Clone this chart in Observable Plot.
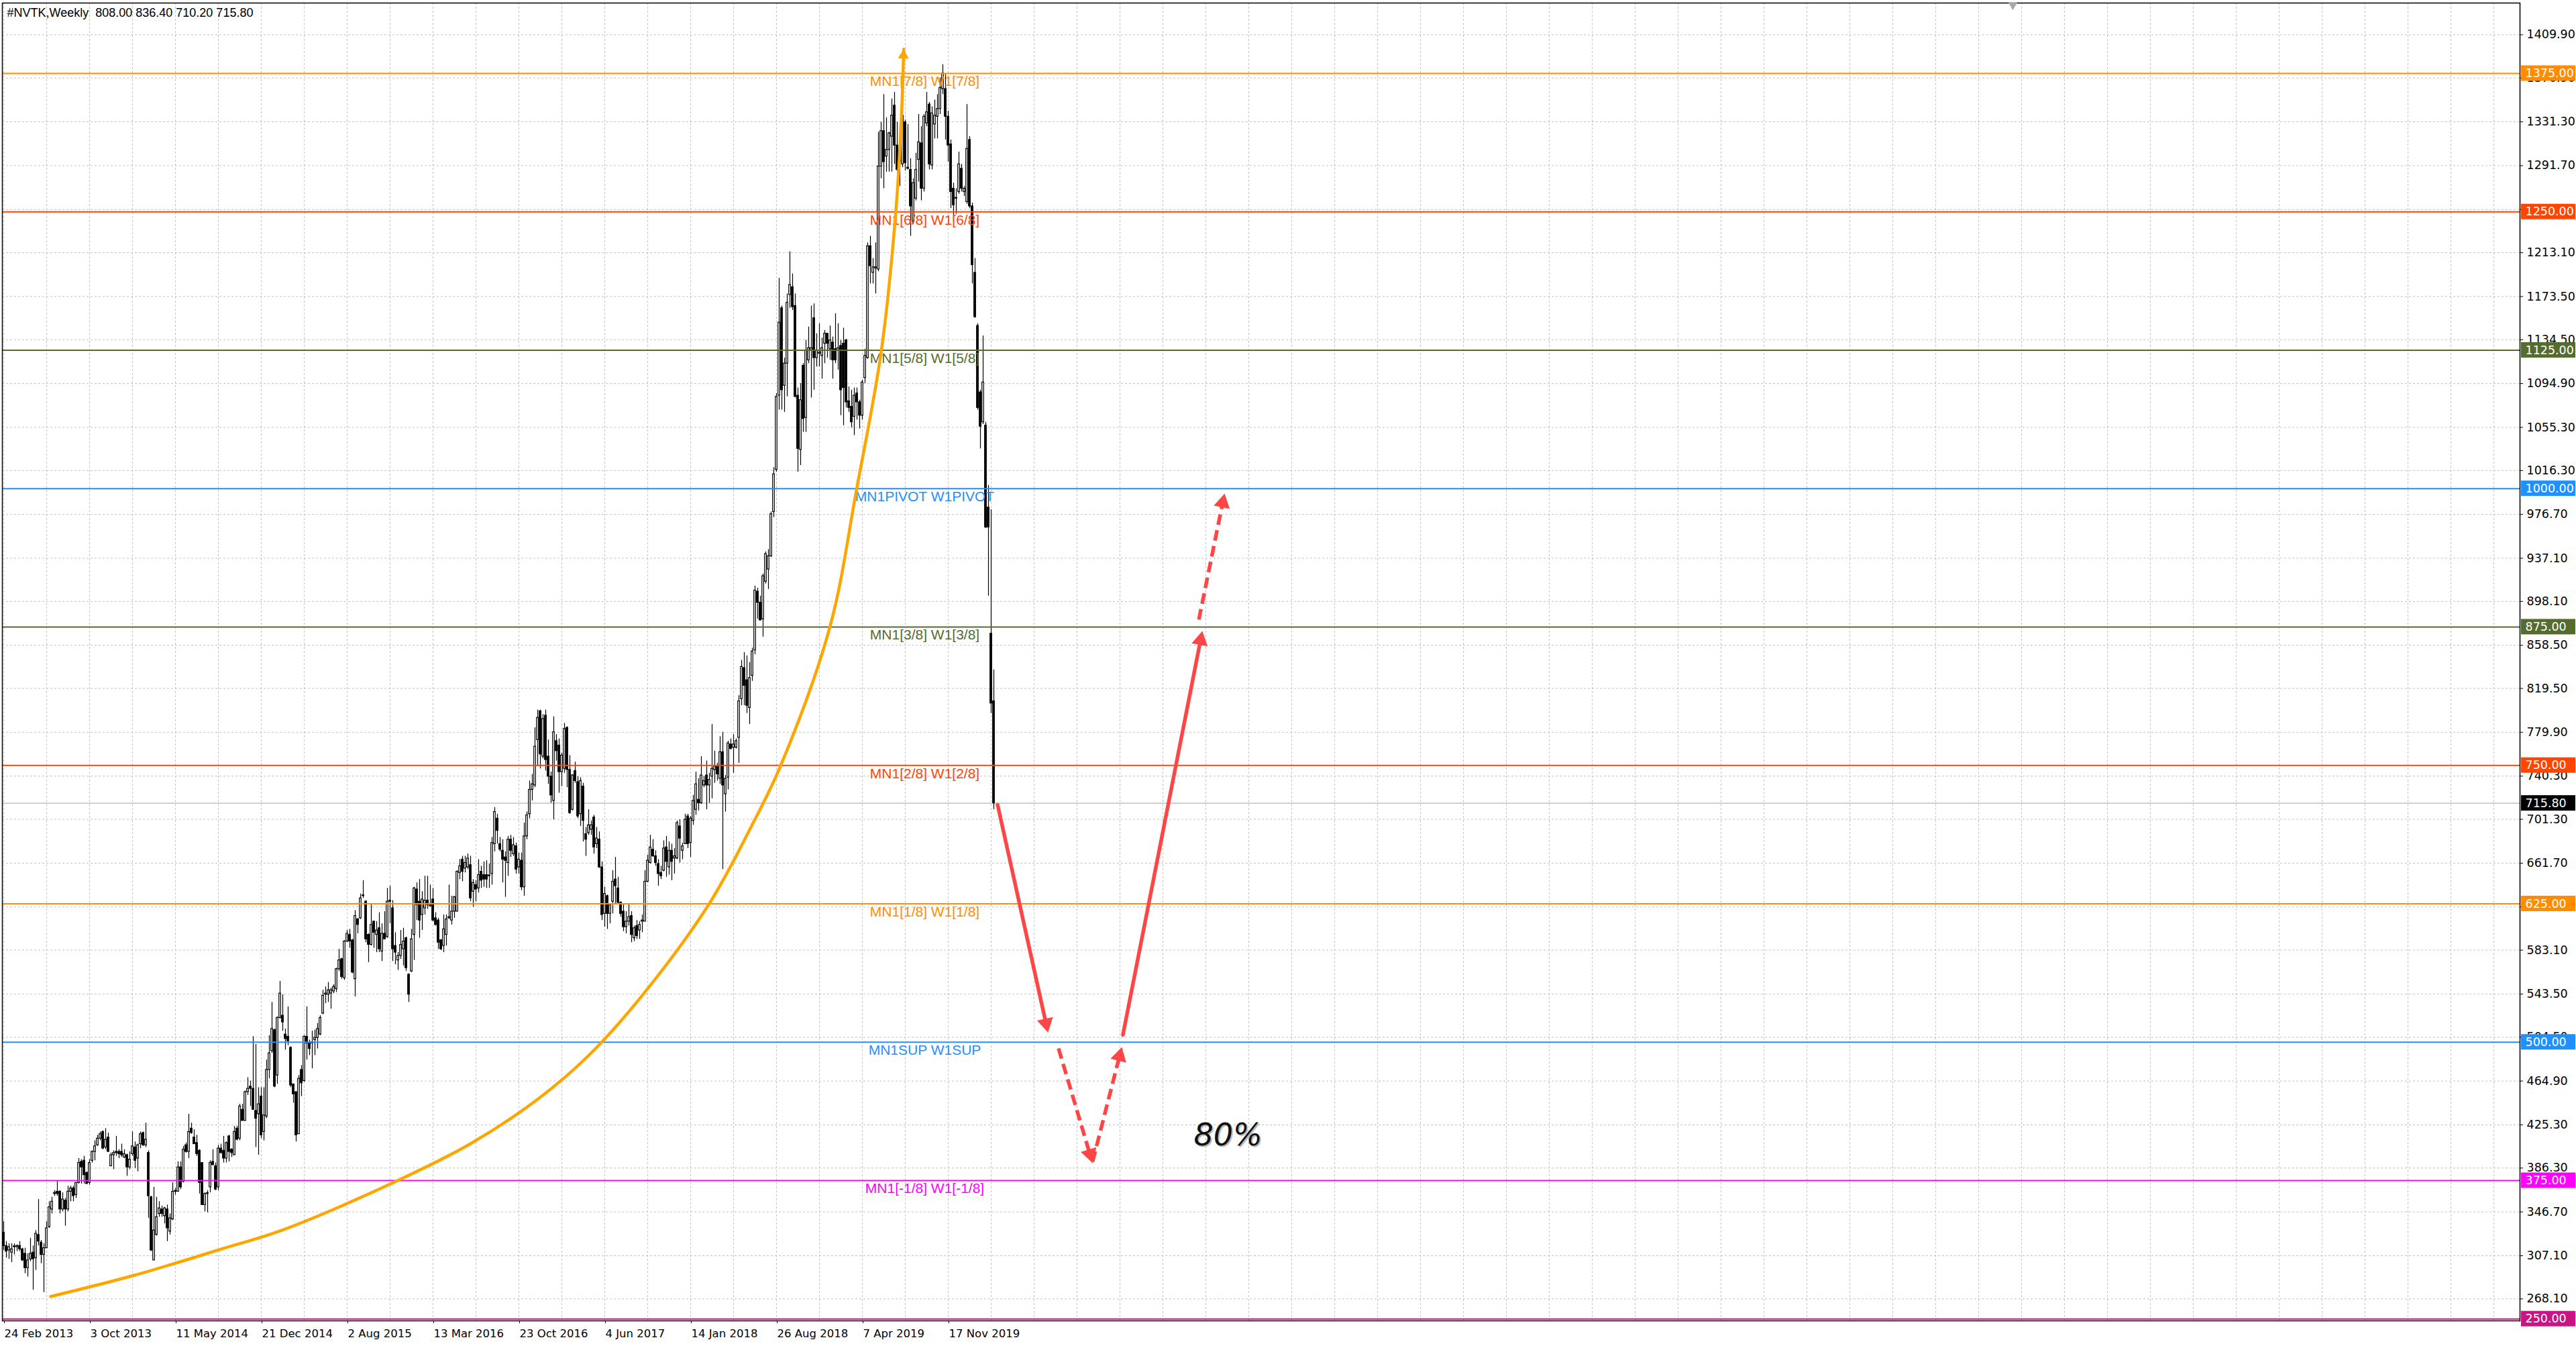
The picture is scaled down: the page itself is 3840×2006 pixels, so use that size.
<!DOCTYPE html>
<html>
<head>
<meta charset="utf-8">
<script src="https://cdn.jsdelivr.net/npm/d3@7"></script>
<script src="https://cdn.jsdelivr.net/npm/@observablehq/plot@0.6"></script>
<style>
  html, body { margin: 0; padding: 0; background: #fff; }
  #chart { width: 3840px; height: 2006px; overflow: hidden; }
</style>
</head>
<body>
<div id="chart"></div>
<script>
const symbolName = "#NVTK";
const timeframe = "Weekly";

// weekly candles, bar 0 = 24 Feb 2013
const weekOpen = [
  328,316,312,310,315,315,316,313,309,296,
  304,310,305,326,319,308,314,333,349,363,
  365,365,349,357,349,365,368,362,373,392,
  393,382,373,393,401,407,413,419,405,414,
  388,398,401,401,401,396,398,387,399,405,
  395,408,418,407,400,360,303,326,345,349,
  343,349,329,340,365,365,387,374,407,401,
  422,414,409,402,391,353,363,369,392,388,
  369,404,402,395,415,403,398,422,413,439,
  429,455,460,458,438,435,451,419,433,475,
  492,511,470,522,524,507,505,495,462,455,
  417,475,465,505,499,499,502,504,507,526,
  543,543,544,546,548,566,575,558,591,597,
  592,557,611,612,632,627,597,588,609,597,
  603,582,598,595,628,621,587,574,578,584,
  594,561,564,597,638,627,615,621,628,623,
  629,612,610,592,587,597,612,610,618,618,
  653,665,657,658,660,636,642,639,654,651,
  651,650,652,679,702,679,673,667,662,683,
  670,677,658,664,640,686,706,728,732,773,
  799,758,795,758,740,718,772,768,744,747,
  784,746,710,745,735,706,731,688,689,692,
  703,679,683,658,616,632,616,627,647,639,
  626,618,604,609,614,594,605,601,609,609,
  645,662,674,668,661,653,655,676,658,673,
  666,666,695,673,679,704,680,700,710,719,
  716,732,741,732,740,746,749,738,762,724,
  739,769,766,766,775,810,838,827,802,831,
  854,907,897,882,916,927,939,979,1017,1084,
  1163,1093,1113,1175,1182,1165,1084,1035,1111,1064,
  1116,1125,1154,1118,1122,1120,1131,1140,1126,1132,
  1126,1125,1129,1131,1134,1079,1074,1065,1086,1078,
  1066,1100,1118,1219,1195,1199,1198,1291,1323,1300,
  1306,1318,1346,1310,1295,1293,1331,1290,1288,1241,
  1262,1297,1312,1271,1330,1347,1292,1329,1336,1343,
  1361,1361,1336,1311,1271,1262,1268,1289,1268,1259,
  1315,1255,1195,1147,1087,1060,1057,983,869,808
];
const weekHigh = [
  338,320,318,318,318,317,320,314,314,309,
  323,316,330,358,321,318,338,356,360,366,
  375,366,364,359,370,370,370,373,395,394,
  397,383,394,402,411,416,419,420,422,418,
  400,402,415,403,408,403,399,401,419,410,
  408,419,419,427,402,361,369,360,356,352,
  351,353,345,373,368,392,392,406,409,435,
  427,421,416,403,391,364,366,393,403,391,
  407,408,415,410,416,404,424,424,444,444,
  456,468,465,505,498,459,459,459,484,506,
  536,512,523,555,543,512,532,496,462,455,
  470,479,506,532,502,510,511,517,524,547,
  550,554,549,552,567,584,576,592,601,602,
  593,619,612,634,646,628,598,625,609,609,
  617,607,618,639,641,628,599,581,601,603,
  595,562,602,640,644,647,636,650,650,642,
  639,617,612,593,615,615,642,632,632,655,
  665,668,668,670,668,647,646,665,659,663,
  664,661,685,712,706,685,683,672,686,687,
  685,680,671,671,698,708,736,742,784,800,
  800,796,800,773,744,794,778,774,761,788,
  785,759,742,753,740,739,734,694,710,700,
  705,694,690,663,640,633,625,655,667,649,
  627,625,618,625,618,605,610,609,615,655,
  669,687,683,673,665,659,682,686,681,679,
  675,700,701,680,706,706,704,723,744,738,
  758,740,754,743,787,763,752,776,780,741,
  772,774,778,774,813,845,852,849,843,856,
  912,910,903,923,943,945,979,1019,1086,1190,
  1165,1118,1176,1214,1194,1176,1091,1095,1113,1134,
  1146,1165,1167,1140,1149,1136,1143,1140,1147,1137,
  1158,1149,1134,1145,1135,1092,1089,1091,1091,1080,
  1098,1126,1222,1228,1208,1222,1322,1331,1356,1335,
  1322,1352,1358,1331,1327,1342,1333,1329,1298,1280,
  1303,1338,1327,1338,1358,1349,1345,1351,1356,1371,
  1383,1375,1341,1315,1276,1271,1304,1293,1273,1347,
  1318,1258,1208,1149,1089,1138,1060,1003,981,836.4
];
const weekLow = [
  312,305,304,301,308,311,311,302,291,288,
  302,276,294,316,300,274,314,332,345,361,
  361,345,347,334,347,356,356,359,372,372,
  372,372,371,391,393,406,411,403,403,401,
  388,385,397,395,396,395,379,385,397,386,
  383,404,406,405,341,311,303,325,342,342,
  336,320,326,339,362,365,367,373,400,395,
  417,408,397,363,353,347,346,364,389,366,
  366,399,391,391,392,396,398,411,411,429,
  429,452,442,439,405,398,413,411,431,467,
  490,459,462,521,510,493,497,459,445,410,
  417,451,464,484,488,476,488,494,506,525,
  535,536,530,544,545,564,557,556,590,585,
  562,541,598,611,630,590,572,587,585,581,
  581,573,593,594,607,573,570,565,575,569,
  564,536,563,574,610,594,601,615,620,622,
  609,605,584,583,581,587,611,606,612,618,
  647,645,653,656,627,622,627,635,639,640,
  639,639,642,672,679,672,644,631,650,667,
  668,652,652,637,632,683,702,718,730,749,
  747,756,745,733,716,701,754,725,731,743,
  730,706,709,734,702,695,681,668,687,687,
  670,675,657,610,604,602,607,616,625,624,
  613,600,598,605,590,591,593,593,599,609,
  644,661,667,659,641,647,654,649,651,646,
  652,665,662,665,679,675,667,696,705,709,
  715,730,710,716,720,734,736,733,656,708,
  728,764,743,765,752,804,804,797,787,826,
  850,882,881,866,914,909,938,974,1015,1071,
  1071,1069,1083,1163,1161,1082,1015,1021,1051,1051,
  1113,1082,1089,1110,1110,1099,1113,1118,1116,1099,
  1113,1107,1066,1057,1073,1069,1055,1048,1062,1054,
  1062,1095,1117,1185,1185,1176,1196,1280,1271,1286,
  1286,1286,1293,1286,1273,1290,1287,1288,1228,1239,
  1260,1277,1260,1268,1327,1288,1288,1316,1316,1338,
  1356,1315,1295,1253,1241,1248,1266,1268,1264,1257,
  1253,1185,1154,1071,1036,1058,964,903,797,710.2
];
const weekClose = [
  316,311,315,313,315,316,313,303,296,303,
  309,304,327,320,308,314,332,351,356,364,
  363,349,358,349,365,368,361,373,391,387,
  380,372,391,401,406,413,417,404,412,401,
  398,400,400,399,398,399,387,394,406,393,
  407,417,407,412,361,312,330,342,350,345,
  350,332,341,365,365,387,369,403,401,419,
  418,408,399,373,353,363,363,391,389,367,
  404,400,395,409,401,400,419,412,442,429,
  455,458,458,439,431,444,416,434,475,490,
  512,460,522,544,518,503,501,461,453,416,
  467,463,505,499,494,500,504,512,522,542,
  544,547,547,550,566,574,559,591,598,591,
  563,614,606,630,632,593,588,606,599,601,
  584,598,593,627,627,584,581,578,588,591,
  567,543,593,639,624,610,629,628,624,624,
  610,606,590,584,602,611,613,618,631,654,
  659,654,662,666,630,644,638,651,646,647,
  647,650,680,708,691,674,665,664,683,673,
  678,656,665,640,686,705,728,733,767,793,
  760,792,755,740,723,780,763,744,759,783,
  746,707,741,736,704,736,700,683,696,696,
  676,684,658,615,634,616,624,645,641,626,
  616,604,609,613,597,603,596,606,610,645,
  664,676,668,662,652,650,675,663,673,663,
  668,698,684,677,701,679,702,718,733,716,
  741,736,732,737,747,749,742,762,732,738,
  770,765,769,772,808,839,822,804,829,853,
  908,897,881,921,941,939,977,1013,1083,1150,
  1089,1113,1168,1184,1164,1083,1036,1080,1063,1125,
  1127,1127,1118,1125,1123,1127,1140,1131,1134,1116,
  1116,1127,1089,1091,1078,1073,1060,1084,1078,1066,
  1096,1120,1219,1201,1200,1200,1291,1323,1295,1306,
  1321,1337,1310,1288,1297,1337,1294,1289,1255,1276,
  1288,1313,1271,1336,1340,1293,1339,1337,1343,1362,
  1375,1336,1310,1268,1256,1262,1293,1271,1271,1307,
  1255,1202,1155,1073,1056,1096,965,965,806,715.8
];

// time axis
const dateLabels = ["24 Feb 2013", "3 Oct 2013", "11 May 2014", "21 Dec 2014", "2 Aug 2015",
  "13 Mar 2016", "23 Oct 2016", "4 Jun 2017", "14 Jan 2018", "26 Aug 2018", "7 Apr 2019", "17 Nov 2019"];
const dateLabelBars = [0, 32, 64, 96, 128, 160, 192, 224, 256, 288, 320, 352];

// price axis ticks as the terminal printed them
const priceTicks = [1409.90, 1370.90, 1331.30, 1291.70, 1252.10, 1213.10, 1173.50, 1134.50,
  1094.90, 1055.30, 1016.30, 976.70, 937.10, 898.10, 858.50, 819.50, 779.90, 740.30, 701.30,
  661.70, 622.10, 583.10, 543.50, 504.50, 464.90, 425.30, 386.30, 346.70, 307.10, 268.10];

// Murrey math levels (the -2/8 label sits under the bottom edge, out of view)
const levelPrices = [1375, 1250, 1125, 1000, 875, 750, 625, 500, 375, 250];
const levelNames = ["MN1[7/8] W1[7/8]", "MN1[6/8] W1[6/8]", "MN1[5/8] W1[5/8]", "MN1PIVOT W1PIVOT",
  "MN1[3/8] W1[3/8]", "MN1[2/8] W1[2/8]", "MN1[1/8] W1[1/8]", "MN1SUP W1SUP",
  "MN1[-1/8] W1[-1/8]", null];
const levelLabelBar = 343.25;

// hand drawn orange arc (bar, price)
const arcBars =   [17.5, 48.75, 82, 103.75, 146.25, 173.75, 198.75, 218, 237.9, 262.9, 279.5, 289.6, 307.9, 317.9, 327.1, 332.5, 334.6, 335.4];
const arcPrices = [270.3, 289.5, 313.8, 330.2, 374.4, 408, 448, 488, 542, 625, 699, 750, 875, 1000, 1125, 1251, 1337.8, 1397];

// hand drawn red arrows (bar, price) from -> to
const arrowFromBar =   [370.4, 393.1, 405.8, 417.1, 445.4];
const arrowFromPrice = [714.4, 494.4, 392.0, 506.6, 881.7];
const arrowToBar =     [389.2, 405.8, 416.7, 446.7, 455.0];
const arrowToPrice =   [508.7, 390.8, 495.6, 871.4, 995.6];
const arrowDashed =    [false, true, true, false, true];

const noteText = "80%";
const noteBar = 456.3, notePrice = 415.6;
const chartShiftBar = 748.75;

// styles
const levelColor = {
  1375: "#ff8c00", 1250: "#ff4500", 1125: "#556b2f", 1000: "#1e90ff", 875: "#556b2f",
  750: "#ff4500", 625: "#ff8c00", 500: "#1e90ff", 375: "#ff00ff", 250: "#c71585"
};
const arcColor = "#ffa500";
const arrowColor = "#ff4646";
const gridColor = "#c0c0c0";
const axisFont = "DejaVu Sans, Verdana, sans-serif";
const textFont = "Liberation Sans, Arial, sans-serif";

// layout
const W = 3840, H = 2006;
const mL = 3, mR = 84, mT = 4, mB = 38;
const xDomain = [-0.5, 937.75];
const yDomain = [248.3, 1438.6];
const kx = (W - mR - mL) / (xDomain[1] - xDomain[0]);
const ky = (H - mB - mT) / (yDomain[1] - yDomain[0]);
const xAt = (px) => xDomain[0] + (px - mL) / kx;

const bars = weekClose.map((c, i) => {
  const o = weekOpen[i];
  // keep a hairline body for doji weeks
  const c2 = Math.abs(c - o) < 0.7 ? o + 0.7 : c;
  return {i, o, h: weekHigh[i], l: weekLow[i], c, c2, up: c >= o};
});
const last = bars[bars.length - 1];

// arrowhead placed so its tip sits on the drawn end point
const headR = 9;
function arrowHead(b1, p1, b2, p2, r) {
  const dx = (b2 - b1) * kx, dy = (p2 - p1) * ky;
  const len = Math.hypot(dx, dy);
  const back = 1.555 * r;
  return {
    x: b2 - (dx / len) * back / kx,
    y: p2 - (dy / len) * back / ky,
    rotate: Math.atan2(dx, dy) * 180 / Math.PI
  };
}

const arrows = arrowFromBar.map((b, k) => {
  const hd = arrowHead(b, arrowFromPrice[k], arrowToBar[k], arrowToPrice[k], headR);
  return {x1: b, y1: arrowFromPrice[k], x2: hd.x, y2: hd.y, hx: hd.x, hy: hd.y, rot: hd.rotate, dashed: arrowDashed[k]};
});

const arc = arcBars.map((b, k) => ({b, p: arcPrices[k]}));
const n = arc.length;
const arcHead = arrowHead(arc[n - 2].b, arc[n - 2].p, arc[n - 1].b, arc[n - 1].p, 6);

const fmt2 = (v) => v.toFixed(2);
const badges = levelPrices.map((p) => ({p, color: levelColor[p]}))
  .concat([{p: last.c, color: "#000000"}]);

const levelMarks = levelPrices.flatMap((p, k) => [
  Plot.ruleY([p], {stroke: levelColor[p], strokeWidth: 2}),
  ...(levelNames[k] ? [Plot.text([levelNames[k]], {
    x: levelLabelBar, y: p, text: (d) => d, fill: levelColor[p],
    lineAnchor: "top", dy: 4, fontSize: 21, fontFamily: textFont
  })] : [])
]);

const chart = Plot.plot({
  width: W,
  height: H,
  marginLeft: mL,
  marginRight: mR,
  marginTop: mT,
  marginBottom: mB,
  style: {background: "#ffffff", color: "#000000", fontFamily: axisFont, fontSize: "16px"},
  x: {type: "linear", domain: xDomain},
  y: {type: "linear", domain: yDomain},
  marks: [
    Plot.gridY(priceTicks, {stroke: gridColor, strokeOpacity: 1, strokeDasharray: "3,3"}),
    Plot.gridX(d3.range(0, 937, 16), {stroke: gridColor, strokeOpacity: 1, strokeDasharray: "3,3"}),
    Plot.ruleY([last.c], {stroke: "#c0c0c0", strokeWidth: 1.5}),

    // candles
    Plot.ruleX(bars, {x: "i", y1: "l", y2: "h", stroke: "#000", strokeWidth: 1.2}),
    Plot.rect(bars.filter((d) => d.up), {
      x1: (d) => d.i - 0.32, x2: (d) => d.i + 0.32, y1: "o", y2: "c2",
      fill: "#fff", stroke: "#000", strokeWidth: 1.2
    }),
    Plot.rect(bars.filter((d) => !d.up), {
      x1: (d) => d.i - 0.32, x2: (d) => d.i + 0.32, y1: "o", y2: "c2",
      fill: "#000", stroke: "#000", strokeWidth: 1.2
    }),

    ...levelMarks,

    // orange arc with its arrowhead
    Plot.line(arc, {x: "b", y: "p", curve: "catmull-rom", stroke: arcColor, strokeWidth: 4.5}),
    Plot.dot([arcHead], {x: "x", y: "y", rotate: "rotate", symbol: "triangle", r: 6, fill: arcColor}),

    // red forecast arrows
    Plot.link(arrows.filter((d) => !d.dashed), {
      x1: "x1", y1: "y1", x2: "x2", y2: "y2", stroke: arrowColor, strokeWidth: 5.5, strokeLinecap: "round"
    }),
    Plot.link(arrows.filter((d) => d.dashed), {
      x1: "x1", y1: "y1", x2: "x2", y2: "y2", stroke: arrowColor, strokeWidth: 5.5, strokeDasharray: "16,8"
    }),
    Plot.dot(arrows, {x: "hx", y: "hy", rotate: "rot", symbol: "triangle", r: headR, fill: arrowColor}),

    Plot.text([noteText], {
      x: noteBar, y: notePrice, text: (d) => d, dx: 2, dy: 2, fill: "#bbbbbb",
      fontSize: 46, fontStyle: "italic", fontFamily: axisFont
    }),
    Plot.text([noteText], {
      x: noteBar, y: notePrice, text: (d) => d, fill: "#111111",
      fontSize: 46, fontStyle: "italic", fontFamily: axisFont
    }),

    // axes
    Plot.axisY(priceTicks, {
      anchor: "right", tickSize: 4, tickPadding: 6, tickFormat: fmt2, label: null,
      fontSize: 17.5, fontFamily: axisFont
    }),
    Plot.axisX(dateLabelBars, {
      anchor: "bottom", tickSize: 4, tickPadding: 9, label: null, textAnchor: "start", dx: 1,
      tickFormat: (d) => dateLabels[dateLabelBars.indexOf(d)], fontSize: 16.5, fontFamily: axisFont
    }),

    // price badges on the axis
    Plot.rect(badges, {
      x1: xAt(3758), x2: xAt(3839), y1: (d) => d.p - 11.5 / ky, y2: (d) => d.p + 11.5 / ky,
      fill: (d) => d.color
    }),
    Plot.text(badges, {
      x: xAt(3764), y: "p", text: (d) => fmt2(d.p), fill: "#ffffff",
      textAnchor: "start", fontSize: 17.5, fontFamily: axisFont
    }),

    Plot.frame({stroke: "#000", strokeWidth: 1.5}),

    // chart shift marker
    Plot.dot([chartShiftBar], {
      x: (d) => d, y: yDomain[1] - 3 / ky, symbol: "triangle", rotate: 180, r: 5, fill: "#a8a8a8"
    }),

    Plot.text([`${symbolName},${timeframe}\u00a0 ${fmt2(last.o)} ${fmt2(last.h)} ${fmt2(last.l)} ${fmt2(last.c)}`], {
      frameAnchor: "top-left", text: (d) => d, dx: 7, dy: 8, lineAnchor: "top", textAnchor: "start",
      fontSize: 18, fontFamily: textFont, fill: "#000"
    })
  ]
});

document.getElementById("chart").appendChild(chart);
</script>
</body>
</html>
